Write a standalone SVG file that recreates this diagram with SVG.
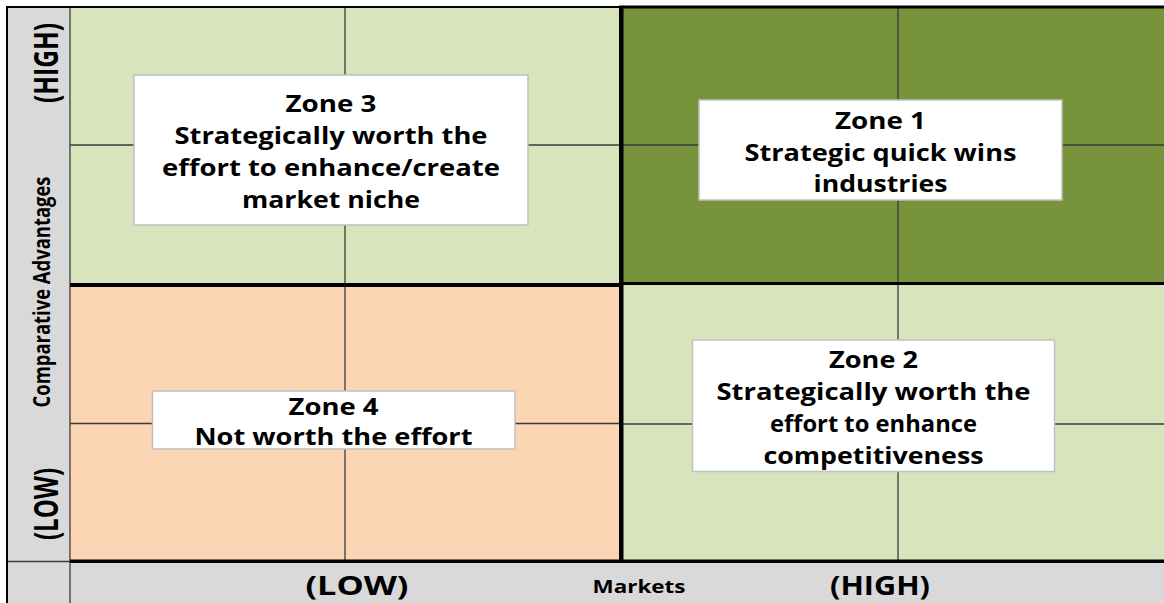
<svg xmlns="http://www.w3.org/2000/svg" width="1164" height="603" viewBox="0 0 1164 603">
<style>
.t{font-family:"Open Sans","Liberation Sans",sans-serif;font-weight:700;fill:#000;text-anchor:middle}
.z{font-size:24px}
.box{fill:#fff;stroke:#C0C0C0;stroke-width:1.5}
.grid{stroke:#3a3a3a;stroke-width:1.3;fill:none}
</style>
<rect width="1164" height="603" fill="#fff"/>
<g id="background">
<rect x="7" y="7" width="63" height="556" fill="#D9D9D9"/>
<rect x="7" y="561" width="1157" height="42" fill="#D9D9D9"/>
<rect x="70" y="8" width="551" height="277" fill="#D8E4BC"/>
<rect x="621" y="8" width="543" height="276" fill="#77933C"/>
<rect x="70" y="285" width="551" height="277" fill="#FCD5B4"/>
<rect x="621" y="284" width="543" height="278" fill="#D8E4BC"/>
</g>
<g id="gridlines">
<line class="grid" x1="345" y1="8" x2="345" y2="284"/>
<line class="grid" x1="70" y1="145" x2="620" y2="145"/>
<line class="grid" x1="898" y1="8" x2="898" y2="284"/>
<line class="grid" x1="622" y1="145" x2="1164" y2="145"/>
<line class="grid" x1="345" y1="285" x2="345" y2="561"/>
<line class="grid" x1="70" y1="423.5" x2="620" y2="423.5"/>
<line class="grid" x1="898" y1="285" x2="898" y2="561"/>
<line class="grid" x1="622" y1="424" x2="1164" y2="424"/>
<line class="grid" x1="70" y1="8" x2="70" y2="603"/>
<line class="grid" x1="7" y1="561.5" x2="70" y2="561.5"/>
</g>
<g id="dividers" fill="#000">
<rect x="6" y="6" width="2" height="597"/>
<rect x="6" y="6" width="615" height="2"/>
<rect x="619" y="5.5" width="545" height="3"/>
<rect x="619" y="6" width="4.5" height="557"/>
<rect x="70" y="283" width="551" height="4"/>
<rect x="621" y="282" width="543" height="3"/>
<rect x="70" y="559.5" width="1094" height="3.5"/>
</g>
<g id="zone3">
<rect class="box" x="134" y="75" width="394" height="150"/>
<text class="t z" x="331" y="112" textLength="91" lengthAdjust="spacingAndGlyphs">Zone 3</text>
<text class="t z" x="331" y="144" textLength="313" lengthAdjust="spacingAndGlyphs">Strategically worth the</text>
<text class="t z" x="331" y="176" textLength="338" lengthAdjust="spacingAndGlyphs">effort to enhance/create</text>
<text class="t z" x="331" y="208" textLength="178" lengthAdjust="spacingAndGlyphs">market niche</text>
</g>
<g id="zone1">
<rect class="box" x="699" y="100" width="363" height="100"/>
<text class="t z" x="880.5" y="128.5" textLength="91" lengthAdjust="spacingAndGlyphs">Zone 1</text>
<text class="t z" x="880.5" y="160.5" textLength="272" lengthAdjust="spacingAndGlyphs">Strategic quick wins</text>
<text class="t z" x="880.5" y="192" textLength="134" lengthAdjust="spacingAndGlyphs">industries</text>
</g>
<g id="zone4">
<rect class="box" x="152.5" y="391" width="362.5" height="58"/>
<text class="t z" x="333.5" y="415" textLength="90" lengthAdjust="spacingAndGlyphs">Zone 4</text>
<text class="t z" x="333.5" y="445" textLength="278" lengthAdjust="spacingAndGlyphs">Not worth the effort</text>
</g>
<g id="zone2">
<rect class="box" x="692.5" y="340" width="362" height="131.5"/>
<text class="t z" x="873.5" y="367.5" textLength="89" lengthAdjust="spacingAndGlyphs">Zone 2</text>
<text class="t z" x="873.5" y="400" textLength="314" lengthAdjust="spacingAndGlyphs">Strategically worth the</text>
<text class="t z" x="873.5" y="432" textLength="207" lengthAdjust="spacingAndGlyphs">effort to enhance</text>
<text class="t z" x="873.5" y="463.5" textLength="220" lengthAdjust="spacingAndGlyphs">competitiveness</text>
</g>
<g id="axis-y">
<text class="t" font-size="24" transform="translate(58,63) rotate(-90) scale(1,1.45)" textLength="80" lengthAdjust="spacingAndGlyphs">(HIGH)</text>
<text class="t" font-size="18" transform="translate(50,292) rotate(-90) scale(1,1.25)" textLength="231" lengthAdjust="spacingAndGlyphs">Comparative Advantages</text>
<text class="t" font-size="24" transform="translate(58,504) rotate(-90) scale(1,1.45)" textLength="72" lengthAdjust="spacingAndGlyphs">(LOW)</text>
</g>
<g id="axis-x">
<text class="t" font-size="27" x="357" y="595" textLength="103" lengthAdjust="spacingAndGlyphs">(LOW)</text>
<text class="t" font-size="18" x="639" y="593.3" textLength="93" lengthAdjust="spacingAndGlyphs">Markets</text>
<text class="t" font-size="27" x="880" y="595" textLength="100" lengthAdjust="spacingAndGlyphs">(HIGH)</text>
</g>
</svg>
